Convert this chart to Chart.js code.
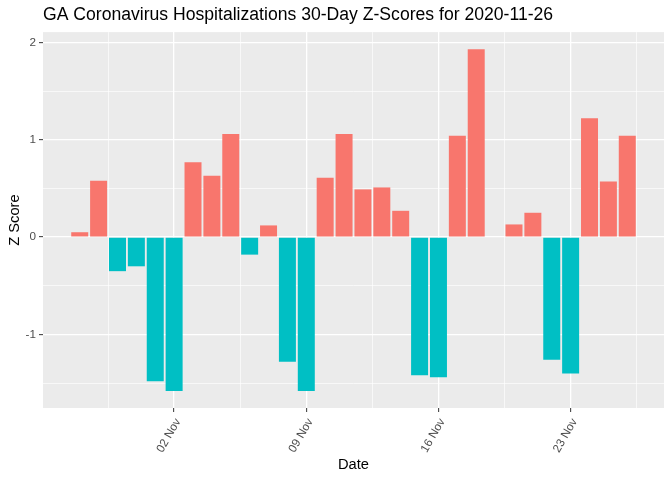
<!DOCTYPE html>
<html>
<head>
<meta charset="utf-8">
<script src="https://cdn.jsdelivr.net/npm/chart.js@4"></script>
<style>
  html, body { margin: 0; padding: 0; background: #fff; }
  #wrap { width: 672px; height: 480px; }
</style>
</head>
<body>
<div id="wrap"><canvas id="zChart" width="672" height="480"></canvas></div>
<script>
// data
const dates = [
  '2020-10-28', '2020-10-29', '2020-10-30', '2020-10-31', '2020-11-01', '2020-11-02',
  '2020-11-03', '2020-11-04', '2020-11-05', '2020-11-06', '2020-11-07', '2020-11-08', '2020-11-09',
  '2020-11-10', '2020-11-11', '2020-11-12', '2020-11-13', '2020-11-14', '2020-11-15', '2020-11-16',
  '2020-11-17', '2020-11-18', '2020-11-19', '2020-11-20', '2020-11-21', '2020-11-22', '2020-11-23',
  '2020-11-24', '2020-11-25', '2020-11-26'
];
const zScores = [
  0.05, 0.58, -0.35, -0.30, -1.48, -1.58,
  0.77, 0.63, 1.06, -0.18, 0.12, -1.28, -1.58,
  0.61, 1.06, 0.49, 0.51, 0.27, -1.42, -1.44,
  1.04, 1.93, null, 0.13, 0.25, -1.26, -1.40,
  1.22, 0.57, 1.04
];
const xTickDates = ['2020-11-02', '2020-11-09', '2020-11-16', '2020-11-23'];
const xTickLabels = ['02 Nov', '09 Nov', '16 Nov', '23 Nov'];
const yMajorTicks = [-1, 0, 1, 2];
const yMinorTicks = [-1.5, -0.5, 0.5, 1.5];

const POS_COLOR = '#F8766D';
const NEG_COLOR = '#00BFC4';

const toDay = d => Date.parse(d) / 86400000;

const points = dates.map((d, i) => ({ x: toDay(d), y: zScores[i] }));

// ggplot-ish 5% expansion of the data range
const xs = points.map(p => p.x);
const xLo = Math.min(...xs) - 0.45, xHi = Math.max(...xs) + 0.45;
const xPad = (xHi - xLo) * 0.05;
const ys = zScores.filter(v => v !== null).concat([0]);
const yLo = Math.min(...ys), yHi = Math.max(...ys);
const yPad = (yHi - yLo) * 0.05;

const xMajor = xTickDates.map(toDay);
const xMinor = [xMajor[0] - 3.5].concat(xMajor.map(v => v + 3.5));
const xAllTicks = xMajor.concat(xMinor).sort((a, b) => a - b);

const panelBackground = {
  id: 'panelBackground',
  beforeDraw(chart) {
    const { ctx, chartArea: a } = chart;
    ctx.save();
    ctx.fillStyle = '#EBEBEB';
    ctx.fillRect(a.left, a.top, a.right - a.left, a.bottom - a.top);
    ctx.restore();
  }
};

Chart.defaults.font.family = '"Liberation Sans", Arial, sans-serif';
Chart.defaults.color = '#4D4D4D';

const isMajorX = v => xMajor.some(m => Math.abs(m - v) < 1e-6);
const isMajorY = v => Number.isInteger(v);

new Chart(document.getElementById('zChart').getContext('2d'), {
  type: 'bar',
  data: {
    datasets: [{
      data: points,
      backgroundColor: ctx => (ctx.raw && ctx.raw.y > 0 ? POS_COLOR : NEG_COLOR),
      borderWidth: 0,
      categoryPercentage: 0.9,
      barPercentage: 1.0
    }]
  },
  options: {
    responsive: false,
    animation: false,
    layout: { padding: { top: 0, right: 8, bottom: 0, left: 0 } },
    plugins: {
      legend: { display: false },
      tooltip: { enabled: false },
      title: {
        display: true,
        fullSize: false,
        align: 'start',
        text: 'GA Coronavirus Hospitalizations 30-Day Z-Scores for 2020-11-26',
        color: '#000000',
        font: { size: 17.6, weight: 'normal' },
        padding: { top: 5, bottom: 6 }
      }
    },
    scales: {
      x: {
        type: 'linear',
        min: xLo - xPad,
        max: xHi + xPad,
        offset: false,
        afterBuildTicks: s => { s.ticks = xAllTicks.map(v => ({ value: v })); },
        afterFit: s => { s.height = 72; },
        grid: {
          offset: false,
          color: '#FFFFFF',
          lineWidth: c => (isMajorX(c.tick.value) ? 1.3 : 0.65),
          tickColor: c => (isMajorX(c.tick.value) ? '#333333' : 'rgba(0,0,0,0)'),
          tickLength: 4,
          tickWidth: 1
        },
        border: { display: false },
        ticks: {
          autoSkip: false,
          minRotation: 60,
          maxRotation: 60,
          padding: 4,
          labelOffset: 4,
          color: '#4D4D4D',
          font: { size: 11.7 },
          callback: v => {
            const i = xMajor.findIndex(m => Math.abs(m - v) < 1e-6);
            return i >= 0 ? xTickLabels[i] : '';
          }
        },
        title: {
          display: true,
          text: 'Date',
          color: '#000000',
          font: { size: 14.7 },
          padding: { top: 0, bottom: 6 }
        }
      },
      y: {
        min: yLo - yPad,
        max: yHi + yPad,
        afterBuildTicks: s => {
          s.ticks = yMajorTicks.concat(yMinorTicks).sort((a, b) => a - b).map(v => ({ value: v }));
        },
        afterFit: s => { s.width = 43; },
        grid: {
          color: '#FFFFFF',
          lineWidth: c => (isMajorY(c.tick.value) ? 1.3 : 0.65),
          tickColor: c => (isMajorY(c.tick.value) ? '#333333' : 'rgba(0,0,0,0)'),
          tickLength: 4,
          tickWidth: 1
        },
        border: { display: false },
        ticks: {
          padding: 3,
          color: '#4D4D4D',
          font: { size: 11.7 },
          callback: v => (isMajorY(v) ? String(v) : '')
        },
        title: {
          display: true,
          text: 'Z Score',
          color: '#000000',
          font: { size: 14.7 },
          padding: { top: 6, bottom: 0 }
        }
      }
    }
  },
  plugins: [panelBackground]
});
</script>
</body>
</html>
